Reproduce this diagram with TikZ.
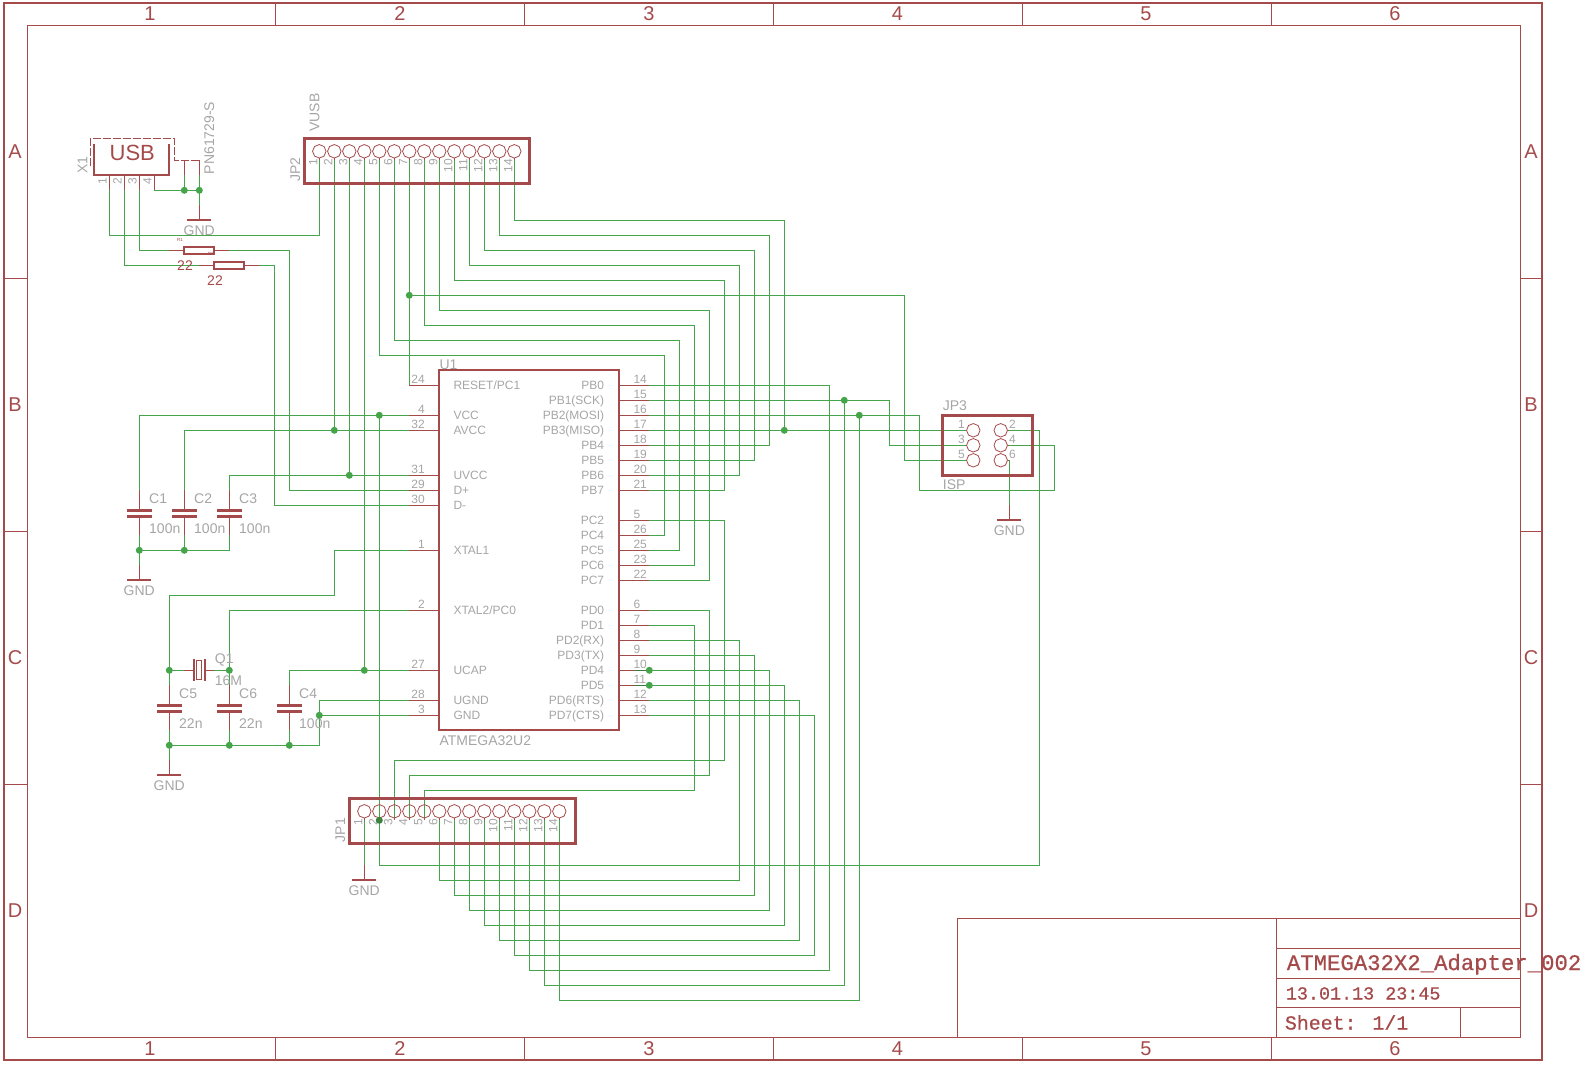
\documentclass[tikz,border=0pt]{standalone}
\usepackage{fontspec}
\setmainfont{Liberation Sans}
\newfontfamily\titlefont[FakeBold=0.7]{Liberation Mono}
\usetikzlibrary{backgrounds,shapes.geometric}

\definecolor{sch_red}{HTML}{A54A4A}
\definecolor{sch_green}{HTML}{46A44B}
\definecolor{sch_dark}{HTML}{3C7A3C}
\definecolor{sch_grey}{HTML}{A5A5A5}

\begin{document}
\begin{tikzpicture}[
        x=1pt,
        y=-1pt,
        block/.style={
            rectangle,
            draw=sch_red,
            inner sep=0pt,
            outer sep=0pt
        },
        header/.style={block, line width=3pt},
        resistor/.style={block, line width=2pt, minimum width=30.5pt, minimum height=7.3pt},
        pad/.style={
            regular polygon,
            regular polygon sides=8,
            shape border rotate=22.5,
            draw=sch_red,
            line width=0.8pt,
            inner sep=0pt,
            minimum size=13.5pt
        },
        junction/.style={circle, fill=sch_green, inner sep=0pt, minimum size=7pt},
        wire/.style={draw=sch_green, line width=1pt},
        stub/.style={draw=sch_red, line width=1pt},
        frame/.style={draw=sch_red, line width=1pt},
        bar/.style={draw=sch_red, line width=2pt},
        plate/.style={draw=sch_red, line width=3pt},
        pin_num/.style={text=sch_grey, inner sep=0pt, font=\fontsize{12}{12}\selectfont},
        pin_name/.style={text=sch_grey, inner sep=0pt, font=\fontsize{12}{12}\selectfont},
        part_name/.style={text=sch_grey, inner sep=0pt, font=\fontsize{14}{14}\selectfont},
        sheet_mark/.style={text=sch_red, inner sep=0pt, font=\fontsize{20}{20}\selectfont},
        value_text/.style={text=sch_red, inner sep=0pt, font=\fontsize{14}{14}\selectfont},
        title_text/.style={text=sch_red, inner sep=0pt, anchor=base west}
    ]

    \useasboundingbox (0,0) rectangle (1590,1065);

    % sheet frame
    \draw [frame, line width=2pt] (4,3) rectangle (1541.7,1060);
    \draw [frame] (27.3,25.3) rectangle (1520.3,1037.3);
    \foreach \x in {275.3,524.3,773.3,1022.3,1271.3} {
        \draw [frame] (\x,3) -- (\x,25.3);
        \draw [frame] (\x,1037.3) -- (\x,1060);
    }
    \foreach \y in {278.3,531.3,784.3} {
        \draw [frame] (4,\y) -- (27.3,\y);
        \draw [frame] (1520.3,\y) -- (1541.7,\y);
    }
    \foreach \n/\x in {1/150,2/400,3/649,4/897.5,5/1146,6/1395} {
        \node (col_top_\n) [sheet_mark, anchor=base] at (\x,21) {\n};
        \node (col_bottom_\n) [sheet_mark, anchor=base] at (\x,1055.5) {\n};
    }
    \foreach \n/\y in {A/151.7,B/404.7,C/657.7,D/910.7} {
        \node (row_left_\n) [sheet_mark, anchor=base] at (15,\y+7.2) {\n};
        \node (row_right_\n) [sheet_mark, anchor=base] at (1531,\y+7.2) {\n};
    }

    % title block
    \draw [frame] (957.3,1037.3) |- (1520.3,918.3);
    \draw [frame] (1276.3,918.3) -- (1276.3,1037.3);
    \draw [frame] (1276.3,948.3) -- (1520.3,948.3);
    \draw [frame] (1276.3,978.3) -- (1520.3,978.3);
    \draw [frame] (1276.3,1007.3) -- (1520.3,1007.3);
    \draw [frame] (1460.3,1007.3) -- (1460.3,1037.3);
    \node (title_name) [title_text, font=\titlefont\fontsize{22.3}{22}\selectfont] at (1286.7,970) {ATMEGA32X2\_Adapter\_002};
    \node (title_date) [title_text, font=\titlefont\fontsize{18.4}{18}\selectfont] at (1285.7,999.5) {13.01.13 23:45};
    \node (title_sheet) [title_text, font=\titlefont\fontsize{19.9}{20}\selectfont] at (1284.7,1029.5) {Sheet: 1/1};

    % X1
    \draw [stub, dash pattern=on 8pt off 2pt] (90.3,166) |- (174.3,138.7) |- (199.3,160.3);
    \draw [bar] (94,144.3) |- (169,175) -- (169,144.3);
    \node (x1_text) [value_text, font=\fontsize{22}{22}\selectfont] at (132.3,152.7) {USB};
    \coordinate (shield_a) at (184.3,175.3);
    \coordinate (shield_b) at (199.3,175.3);
    \draw [stub] (shield_a) -- (shield_a |- 0,160.3);
    \draw [stub] (shield_b) -- (shield_b |- 0,160.3);
    \foreach \n [evaluate=\n as \x using 94.3+15*\n] in {1,...,4} {
        \coordinate (x1_\n) at (\x,190.3);
        \draw [stub] (x1_\n) -- (\x,175);
        \node (x1_num_\n) [pin_num, rotate=90, anchor=base east] at (\x-2.6,178) {\n};
    }
    \node (x1_name) [part_name, rotate=90, anchor=base west] at (87.3,174) {X1};
    \node (x1_value) [part_name, rotate=90, anchor=base west] at (214,174.3) {PN61729-S};

    % ground symbols
    \foreach \n/\x/\y in {x1/199.3/205.3,c1/139.3/565.3,c5/169.3/760.3,jp1/364.3/865.3,jp3/1009.3/505.3} {
        \coordinate (gnd_\n) at (\x,\y);
        \draw [stub] (gnd_\n) -- ++(0,15);
        \draw [bar] (\x-12,\y+15) -- (\x+12,\y+15);
        \node (gnd_text_\n) [part_name, anchor=base] at (\x,\y+30) {GND};
    }

    % resistors
    \node (r1) [resistor] at (199,250.3) {};
    \node (r2) [resistor] at (229,265.3) {};
    \coordinate (r1_a) at (169.3,250.3);
    \coordinate (r1_b) at (229.3,250.3);
    \coordinate (r2_a) at (199.3,265.3);
    \coordinate (r2_b) at (259.3,265.3);
    \draw [stub] (r1_a) -- (r1);
    \draw [stub] (r1_b) -- (r1);
    \draw [stub] (r2_a) -- (r2);
    \draw [stub] (r2_b) -- (r2);
    \node (r1_value) [value_text, anchor=base] at (185,270) {22};
    \node (r2_value) [value_text, anchor=base] at (215,285) {22};
    \node (r1_name) [value_text, anchor=base, font=\fontsize{4.5}{5}\selectfont] at (180,241) {R1};
    \node (r2_name) [value_text, anchor=base, font=\fontsize{4.5}{5}\selectfont] at (210.7,255) {R2};

    % JP2 and JP1
    \node (jp2) [header, minimum width=225.4pt, minimum height=45.4pt] at (417,161) {};
    \node (jp1) [header, minimum width=226pt, minimum height=45.4pt] at (462,821) {};
    \foreach \n [evaluate=\n as \x using 304.3+15*\n, evaluate=\n as \xx using 349.3+15*\n] in {1,...,14} {
        \coordinate (jp2_\n) at (\x,160.3);
        \node (jp2_pad_\n) [pad] at (\x,151.3) {};
        \draw [stub] (jp2_pad_\n) -- (jp2_\n);
        \node (jp2_num_\n) [pin_num, rotate=90, anchor=base east] at (\x-2,159) {\n};
        \coordinate (jp1_\n) at (\xx,820.3);
        \node (jp1_pad_\n) [pad] at (\xx,811.3) {};
        \draw [stub] (jp1_pad_\n) -- (jp1_\n);
        \node (jp1_num_\n) [pin_num, rotate=90, anchor=base east] at (\xx-2,819) {\n};
    }
    \node (jp2_name) [part_name, rotate=90, anchor=base west] at (300,182) {JP2};
    \node (jp2_value) [part_name, rotate=90, anchor=base east] at (319.3,93.3) {VUSB};
    \node (jp1_name) [part_name, rotate=90, anchor=base west] at (345,842.3) {JP1};

    % JP3
    \node (jp3) [header, minimum width=90.7pt, minimum height=60.7pt] at (987.35,445.35) {};
    \foreach \n/\m/\y in {1/2/430.3,3/4/445.3,5/6/460.3} {
        \coordinate (jp3_\n) at (966.7,\y);
        \coordinate (jp3_\m) at (1009.3,\y);
        \node (jp3_pad_\n) [pad] at (973.3,\y) {};
        \node (jp3_pad_\m) [pad] at (1000.7,\y) {};
        \draw [stub] (jp3_pad_\m) -- (jp3_\m);
        \node (jp3_num_\n) [pin_num, anchor=base east] at (965,\y-2) {\n};
        \node (jp3_num_\m) [pin_num, anchor=base west] at (1009,\y-2) {\m};
    }
    \node (jp3_name) [part_name, anchor=base west] at (942.7,410.7) {JP3};
    \node (jp3_value) [part_name, anchor=base west] at (942.7,489.3) {ISP};

    % U1
    \node (u1) [block, line width=2pt, minimum width=179.7pt, minimum height=359.7pt] at (529.15,549.85) {};
    \node (u1_name) [part_name, anchor=base west] at (439.3,369.3) {U1};
    \node (u1_value) [part_name, anchor=base west] at (439.3,745.7) {ATMEGA32U2};
    \foreach \n/\y/\name in {24/385.3/{RESET/PC1},4/415.3/VCC,32/430.3/AVCC,31/475.3/UVCC,29/490.3/D+,30/505.3/D-,1/550.3/XTAL1,2/610.3/{XTAL2/PC0},27/670.3/UCAP,28/700.3/UGND,3/715.3/GND} {
        \coordinate (u1_\n) at (409.3,\y);
        \draw [stub] (u1_\n) -- (u1_\n -| u1.west);
        \node (u1_num_\n) [pin_num, anchor=base east] at (425,\y-2) {\n};
        \node (u1_pin_\n) [pin_name, anchor=base west] at (453.3,\y+4.3) {\name};
    }
    \foreach \n/\y/\name in {14/385.3/PB0,15/400.3/PB1(SCK),16/415.3/PB2(MOSI),17/430.3/PB3(MISO),18/445.3/PB4,19/460.3/PB5,20/475.3/PB6,21/490.3/PB7,5/520.3/PC2,26/535.3/PC4,25/550.3/PC5,23/565.3/PC6,22/580.3/PC7,6/610.3/PD0,7/625.3/PD1,8/640.3/PD2(RX),9/655.3/PD3(TX),10/670.3/PD4,11/685.3/PD5,12/700.3/PD6(RTS),13/715.3/PD7(CTS)} {
        \coordinate (u1_\n) at (649.3,\y);
        \draw [stub] (u1_\n) -- (u1_\n -| u1.east);
        \node (u1_num_\n) [pin_num, anchor=base west] at (633.3,\y-2) {\n};
        \node (u1_pin_\n) [pin_name, anchor=base east] at (604.3,\y+4.3) {\name};
    }

    % capacitors
    \foreach \n/\x/\y/\v in {1/139.3/490.3/100n,2/184.3/490.3/100n,3/229.3/490.3/100n,4/289.3/685.3/100n,5/169.3/685.3/22n,6/229.3/685.3/22n} {
        \coordinate (c\n_top) at (\x,\y);
        \coordinate (c\n_bottom) at (\x,\y+45);
        \draw [stub] (c\n_top) -- ++(0,20.5);
        \draw [stub] (c\n_bottom) -- ++(0,-20);
        \draw [plate] (\x-12.5,\y+20.5) -- (\x+12.5,\y+20.5);
        \draw [plate] (\x-12.5,\y+25.7) -- (\x+12.5,\y+25.7);
        \node (c\n_name) [part_name, anchor=base west] at (\x+9.7,\y+12.8) {C\n};
        \node (c\n_value) [part_name, anchor=base west] at (\x+9.7,\y+42.7) {\v};
    }

    % Q1
    \coordinate (q1_a) at (184.3,670.3);
    \coordinate (q1_b) at (214.3,670.3);
    \draw [stub] (q1_a) -- (193.7,670.3);
    \draw [stub] (q1_b) -- (204.7,670.3);
    \draw [bar] (193.7,659.3) -- (193.7,681.3);
    \draw [bar] (204.7,659.3) -- (204.7,681.3);
    \draw [stub, fill=white] (196.4,660.3) rectangle (201.9,679.3);
    \node (q1_name) [part_name, anchor=base west] at (214.7,663.3) {Q1};
    \node (q1_value) [part_name, anchor=base west] at (214.7,685) {16M};

    % nets
    \coordinate (rail_top) at (139.3,550.3);
    \coordinate (rail_bottom) at (169.3,745.3);
    \coordinate (reset_tap) at (409.3,295.3);
    \begin{scope}[on background layer]
        \draw [wire] (x1_1) -- ++(0,45) -| (jp2_1);
        \draw [wire] (x1_2) |- (r2_a);
        \draw [wire] (x1_3) |- (r1_a);
        \draw [wire] (x1_4) -| (shield_a);
        \draw [wire] (x1_4) -| (shield_b);
        \draw [wire] (shield_b) -- (gnd_x1);
        \draw [wire] (r1_b) -- ++(60,0) |- (u1_29);
        \draw [wire] (r2_b) -- ++(15,0) |- (u1_30);

        \draw [wire] (jp2_2) -- (jp2_2 |- u1_32);
        \draw [wire] (jp2_3) -- (jp2_3 |- u1_31);
        \draw [wire] (jp2_4) -- (jp2_4 |- u1_27);
        \draw [wire] (jp2_7) |- (u1_24);
        \draw [wire] (reset_tap) -- ++(495,0) |- (jp3_5);
        \foreach \from/\y/\x/\to in {14/220.3/784.3/17,13/235.3/769.3/18,12/250.3/754.3/19,11/265.3/739.3/20,10/280.3/724.3/21,9/310.3/709.3/22,8/325.3/694.3/23,6/340.3/679.3/25,5/355.3/664.3/26} {
            \draw [wire] (jp2_\from) |- (\x,\y) |- (u1_\to);
        }

        \draw [wire] (u1_4) -| (c1_top);
        \draw [wire] (u1_32) -| (c2_top);
        \draw [wire] (u1_31) -| (c3_top);
        \draw [wire] (c1_bottom) -- (gnd_c1);
        \draw [wire] (c2_bottom) -- (c2_bottom |- rail_top);
        \draw [wire] (c3_bottom) |- (rail_top);

        \draw [wire] (u1_1) -- ++(-75,0) -- ++(0,45) -| (c5_top);
        \draw [wire] (u1_2) -| (c6_top);
        \draw [wire] (u1_27) -| (c4_top);
        \draw [wire] (q1_a) -- (c5_top |- q1_a);
        \draw [wire] (q1_b) -- (c6_top |- q1_b);
        \draw [wire] (c5_bottom) -- (gnd_c5);
        \draw [wire] (c6_bottom) -- (c6_bottom |- rail_bottom);
        \draw [wire] (c4_bottom) -- (c4_bottom |- rail_bottom);
        \draw [wire] (rail_bottom) -- ++(150,0) |- (u1_28);
        \draw [wire] (u1_3) -- ++(-90,0);

        \draw [wire] (u1_17) -- (jp3_1);
        \draw [wire] (u1_15) -- ++(240,0) |- (jp3_3);
        \draw [wire] (u1_16) -- ++(270,0) -- ++(0,75) -- ++(135,0) |- (jp3_4);
        \draw [wire] (jp3_6) -- (gnd_jp3);
        \draw [wire] (u1_4 -| jp1_2) -- ++(0,450) -- ++(660,0) |- (jp3_2);

        \draw [wire] (jp1_1) -- (gnd_jp1);
        \foreach \to/\x/\y/\from in {5/724.3/760.3/3,6/709.3/775.3/4,7/694.3/790.3/5,8/739.3/880.3/6,9/754.3/895.3/7,10/769.3/910.3/8,11/784.3/925.3/9,12/799.3/940.3/10,13/814.3/955.3/11,14/829.3/970.3/12,15/844.3/985.3/13,16/859.3/1000.3/14} {
            \draw [wire] (u1_\to) -| (\x,\y) -| (jp1_\from);
        }
    \end{scope}
    \draw [wire, draw=sch_dark] (u1_10) -- ++(-15,0);
    \draw [wire, draw=sch_dark] (u1_11) -- ++(-15,0);

    % junctions
    \foreach \x/\y [count=\i] in {184.3/190.3,199.3/190.3,409.3/295.3,334.3/430.3,349.3/475.3,364.3/670.3,379.3/415.3,139.3/550.3,184.3/550.3,169.3/670.3,229.3/670.3,169.3/745.3,229.3/745.3,289.3/745.3,319.3/715.3,784.3/430.3,844.3/400.3,859.3/415.3,649.3/670.3,649.3/685.3} {
        \node (junction_\i) [junction] at (\x,\y) {};
    }
    \node (junction_jp1) [junction, fill=sch_dark!80!sch_green] at (jp1_2) {};
\end{tikzpicture}
\end{document}
